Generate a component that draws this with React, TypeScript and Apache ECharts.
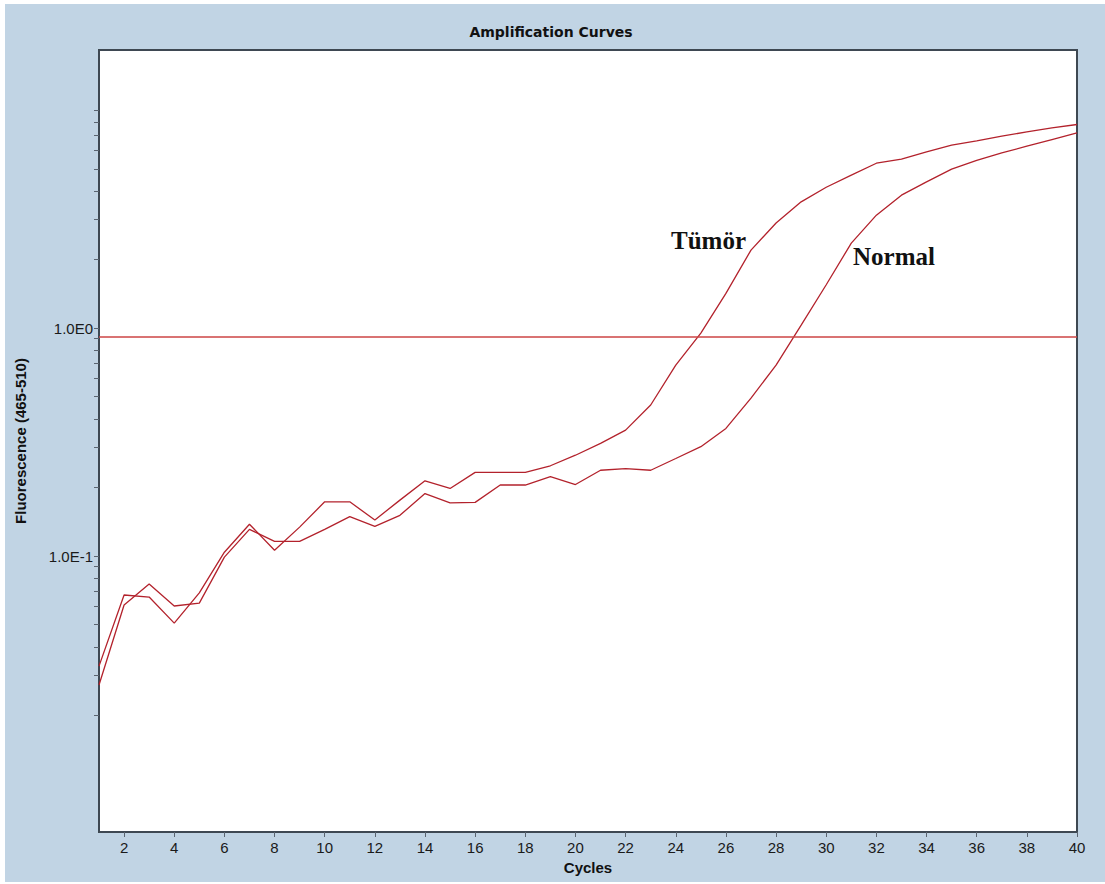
import React, { useEffect, useRef } from "react";
import * as echarts from "echarts";

// PCR cycle numbers on the x axis
const cycles: number[] = Array.from({ length: 40 }, (_, i) => i + 1);

// Fluorescence (465-510) per cycle, tumour sample
const tumorValues: number[] = [
  0.0329, 0.0675, 0.0661, 0.0508, 0.0689, 0.104, 0.138, 0.106, 0.134, 0.173,
  0.173, 0.144, 0.176, 0.214, 0.198, 0.233, 0.233, 0.233, 0.249, 0.277,
  0.312, 0.357, 0.46, 0.688, 0.951, 1.42, 2.2, 2.89, 3.58, 4.15,
  4.69, 5.29, 5.51, 5.93, 6.35, 6.63, 6.95, 7.26, 7.56, 7.82,
];

// Fluorescence (465-510) per cycle, normal tissue sample
const normalValues: number[] = [
  0.0272, 0.061, 0.0754, 0.0604, 0.0622, 0.099, 0.131, 0.116, 0.116, 0.131,
  0.149, 0.135, 0.151, 0.188, 0.171, 0.172, 0.205, 0.205, 0.223, 0.206,
  0.238, 0.242, 0.238, 0.268, 0.302, 0.363, 0.493, 0.688, 1.03, 1.55,
  2.36, 3.13, 3.83, 4.38, 4.98, 5.45, 5.87, 6.28, 6.72, 7.19,
];

// Detection threshold
const thresholdValue = 0.922;

// Fluorescence range shown on the log scale
const yMinValue = 0.00616;
const yMaxValue = 16.6;

// Labelled decades and minor tick marks of the log scale
const yLabelValues: number[] = [0.1, 1];
const yTickValues: number[] = [
  0.02, 0.03, 0.04, 0.05, 0.06, 0.07, 0.08, 0.09,
  0.1, 0.2, 0.3, 0.4, 0.5, 0.6, 0.7, 0.8, 0.9,
  1, 2, 3, 4, 5, 6, 7, 8, 9,
];

// Cycle tick labels
const xTickValues: number[] = [
  2, 4, 6, 8, 10, 12, 14, 16, 18, 20, 22, 24, 26, 28, 30, 32, 34, 36, 38, 40,
];

const lg = (v: number) => Math.log10(v);

export default function App() {
  const ref = useRef<HTMLDivElement>(null);

  useEffect(() => {
    if (!ref.current) return;
    const chart = echarts.init(ref.current, undefined, { renderer: "svg" });

    const curveColor = "#b3222c";
    const frameColor = "#3e4852";
    const labelFont = '"Liberation Sans", Arial, sans-serif';

    chart.setOption({
      animation: false,
      backgroundColor: "#c1d4e4",
      title: {
        text: "Amplification Curves",
        left: 541,
        textAlign: "center",
        top: 16,
        textStyle: {
          fontFamily: '"DejaVu Sans", sans-serif',
          fontWeight: "bold",
          fontSize: 14,
          color: "#111",
        },
      },
      grid: {
        left: 94,
        top: 46,
        width: 978,
        height: 782,
        show: true,
        backgroundColor: "#ffffff",
        borderColor: frameColor,
        borderWidth: 2,
      },
      xAxis: {
        type: "value",
        min: 1,
        max: 40,
        name: "Cycles",
        nameLocation: "middle",
        nameGap: 24,
        nameTextStyle: {
          fontFamily: labelFont,
          fontWeight: "bold",
          fontSize: 15,
          color: "#111",
        },
        axisLine: {
          show: true,
          onZero: false,
          lineStyle: { color: frameColor, width: 2 },
        },
        axisTick: {
          show: true,
          customValues: xTickValues,
          length: 5,
          lineStyle: { color: "#5a6470", width: 1 },
        },
        axisLabel: {
          customValues: xTickValues,
          margin: 8,
          fontFamily: labelFont,
          fontSize: 15,
          color: "#1a1a1a",
        },
        splitLine: { show: false },
      },
      yAxis: {
        type: "value",
        min: lg(yMinValue),
        max: lg(yMaxValue),
        name: "Fluorescence (465-510)",
        nameLocation: "middle",
        nameRotate: 90,
        nameGap: 71,
        nameTextStyle: {
          fontFamily: labelFont,
          fontWeight: "bold",
          fontSize: 15,
          color: "#111",
        },
        axisLine: {
          show: true,
          onZero: false,
          lineStyle: { color: frameColor, width: 2 },
        },
        axisTick: {
          show: true,
          customValues: yTickValues.map(lg),
          length: 5,
          lineStyle: { color: "#5a6470", width: 1 },
        },
        axisLabel: {
          customValues: yLabelValues.map(lg),
          margin: 6,
          fontFamily: labelFont,
          fontSize: 15,
          color: "#1a1a1a",
          formatter: (v: number) => `1.0E${Math.round(v)}`,
        },
        splitLine: { show: false },
      },
      series: [
        {
          name: "Tümör",
          type: "line",
          data: cycles.map((c, i) => [c, lg(tumorValues[i])]),
          showSymbol: false,
          lineStyle: { color: curveColor, width: 1.3 },
          z: 3,
        },
        {
          name: "Normal",
          type: "line",
          data: cycles.map((c, i) => [c, lg(normalValues[i])]),
          showSymbol: false,
          lineStyle: { color: curveColor, width: 1.3 },
          z: 3,
        },
        {
          name: "Threshold",
          type: "line",
          data: [],
          markLine: {
            silent: true,
            symbol: ["none", "none"],
            label: { show: false },
            lineStyle: { color: "#cc4444", width: 1.6, type: "solid" },
            data: [{ yAxis: lg(thresholdValue) }],
          },
          z: 2,
        },
      ],
      graphic: [
        {
          type: "text",
          x: 666,
          y: 236,
          style: {
            text: "Tümör",
            font: 'bold 25px "Liberation Serif", "Times New Roman", serif',
            fill: "#111",
            verticalAlign: "middle",
          },
          z: 10,
        },
        {
          type: "text",
          x: 848,
          y: 252,
          style: {
            text: "Normal",
            font: 'bold 25px "Liberation Serif", "Times New Roman", serif',
            fill: "#111",
            verticalAlign: "middle",
          },
          z: 10,
        },
      ],
    });

    return () => chart.dispose();
  }, []);

  return (
    <div
      ref={ref}
      style={{ position: "absolute", left: 5, top: 4, width: 1100, height: 878 }}
    />
  );
}
